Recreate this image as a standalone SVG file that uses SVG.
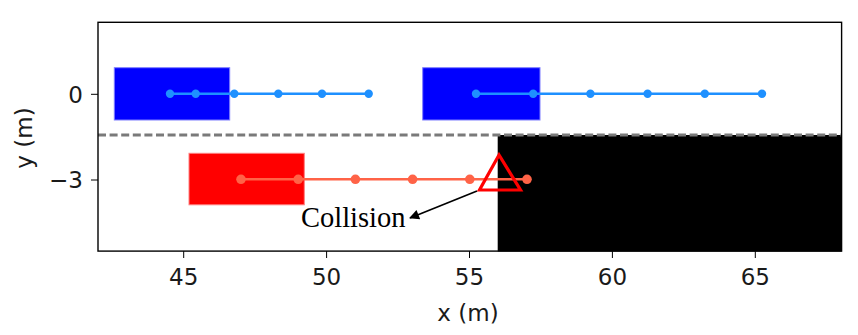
<svg xmlns="http://www.w3.org/2000/svg" width="858" height="335" viewBox="0 0 858 335">
  <style>
    .tick { stroke: #000; stroke-width: 1; }
    .tl { font-family: "DejaVu Sans", sans-serif; font-size: 23px; fill: #1a1a1a; }
    .blue-line { stroke: #1E90FF; stroke-width: 2.6; fill: none; }
    .blue-dot { fill: #1E90FF; }
    .red-line { stroke: #FF6347; stroke-width: 2.6; fill: none; }
    .red-dot { fill: #FF6347; }
    .car-blue { fill: #0000FF; stroke: #7f7fff; stroke-width: 1; }
    .car-red { fill: #FF0000; stroke: #ff8080; stroke-width: 1; }
  </style>
  <defs>
    <marker id="ah" viewBox="0 0 10 10" refX="9" refY="5" markerWidth="12" markerHeight="10" markerUnits="userSpaceOnUse" orient="auto">
      <path d="M0,0 L10,5 L0,10 Z" fill="#000"/>
    </marker>
  </defs>
  <rect width="858" height="335" fill="#fff"/>

  <g id="obstacle">
    <rect x="497.7" y="135" width="344" height="116.5" fill="#000"/>
  </g>
  <g id="lane-divider">
    <line x1="98" y1="135" x2="841.6" y2="135" stroke="#7a7a7a" stroke-width="2.8" stroke-dasharray="8 3.6"/>
  </g>

  <g id="vehicle-blue-1">
    <rect class="car-blue" x="114.3" y="67.7" width="115.4" height="52.3"/>
    <polyline class="blue-line" points="170,93.8 195.7,93.8 234.3,93.8 278.3,93.8 322,93.8 368.7,93.8"/>
    <circle class="blue-dot" cx="170" cy="93.8" r="4.2"/>
    <circle class="blue-dot" cx="195.7" cy="93.8" r="4.2"/>
    <circle class="blue-dot" cx="234.3" cy="93.8" r="4.2"/>
    <circle class="blue-dot" cx="278.3" cy="93.8" r="4.2"/>
    <circle class="blue-dot" cx="322" cy="93.8" r="4.2"/>
    <circle class="blue-dot" cx="368.7" cy="93.8" r="4.2"/>
  </g>

  <g id="vehicle-blue-2">
    <rect class="car-blue" x="422.7" y="67.7" width="117.3" height="52.3"/>
    <polyline class="blue-line" points="476,93.8 533.2,93.8 590.4,93.8 647.6,93.8 704.8,93.8 762,93.8"/>
    <circle class="blue-dot" cx="476" cy="93.8" r="4.2"/>
    <circle class="blue-dot" cx="533.2" cy="93.8" r="4.2"/>
    <circle class="blue-dot" cx="590.4" cy="93.8" r="4.2"/>
    <circle class="blue-dot" cx="647.6" cy="93.8" r="4.2"/>
    <circle class="blue-dot" cx="704.8" cy="93.8" r="4.2"/>
    <circle class="blue-dot" cx="762" cy="93.8" r="4.2"/>
  </g>

  <g id="vehicle-red">
    <rect class="car-red" x="189" y="153.3" width="115.3" height="51.5"/>
    <polyline class="red-line" points="241,179.3 298.2,179.3 355.4,179.3 412.6,179.3 469.8,179.3 527,179.3"/>
    <circle class="red-dot" cx="241" cy="179.3" r="4.8"/>
    <circle class="red-dot" cx="298.2" cy="179.3" r="4.8"/>
    <circle class="red-dot" cx="355.4" cy="179.3" r="4.8"/>
    <circle class="red-dot" cx="412.6" cy="179.3" r="4.8"/>
    <circle class="red-dot" cx="469.8" cy="179.3" r="4.8"/>
    <circle class="red-dot" cx="527" cy="179.3" r="4.8"/>
  </g>

  <g id="collision-marker">
    <polygon points="499,155 479.5,190 520.5,190" fill="none" stroke="#FF0000" stroke-width="3.2"/>
  </g>

  <g id="collision-label">
    <text x="301" y="227.3" font-family="'Liberation Serif', 'Times New Roman', serif" font-size="28.5" fill="#000">Collision</text>
  </g>

  <g id="connectors">
    <line x1="477" y1="191" x2="410" y2="218" stroke="#000" stroke-width="1.7" marker-end="url(#ah)"/>
  </g>

  <g id="axes">
    <rect x="98" y="22.3" width="743.6" height="228.8" fill="none" stroke="#000" stroke-width="1.4"/>
    <line class="tick" x1="183.7" y1="251.1" x2="183.7" y2="258"/>
    <line class="tick" x1="326.6" y1="251.1" x2="326.6" y2="258"/>
    <line class="tick" x1="469.5" y1="251.1" x2="469.5" y2="258"/>
    <line class="tick" x1="612.4" y1="251.1" x2="612.4" y2="258"/>
    <line class="tick" x1="755.3" y1="251.1" x2="755.3" y2="258"/>
    <line class="tick" x1="91" y1="94.3" x2="98" y2="94.3"/>
    <line class="tick" x1="91" y1="180" x2="98" y2="180"/>
    <text class="tl" x="183.7" y="285" text-anchor="middle">45</text>
    <text class="tl" x="326.6" y="285" text-anchor="middle">50</text>
    <text class="tl" x="469.5" y="285" text-anchor="middle">55</text>
    <text class="tl" x="612.4" y="285" text-anchor="middle">60</text>
    <text class="tl" x="755.3" y="285" text-anchor="middle">65</text>
    <text class="tl" x="83" y="102.6" text-anchor="end">0</text>
    <text class="tl" x="83" y="188.3" text-anchor="end">−3</text>
    <text class="tl" x="468" y="321" text-anchor="middle">x (m)</text>
    <text class="tl" x="0" y="0" text-anchor="middle" transform="translate(32,138) rotate(-90)">y (m)</text>
  </g>
</svg>
